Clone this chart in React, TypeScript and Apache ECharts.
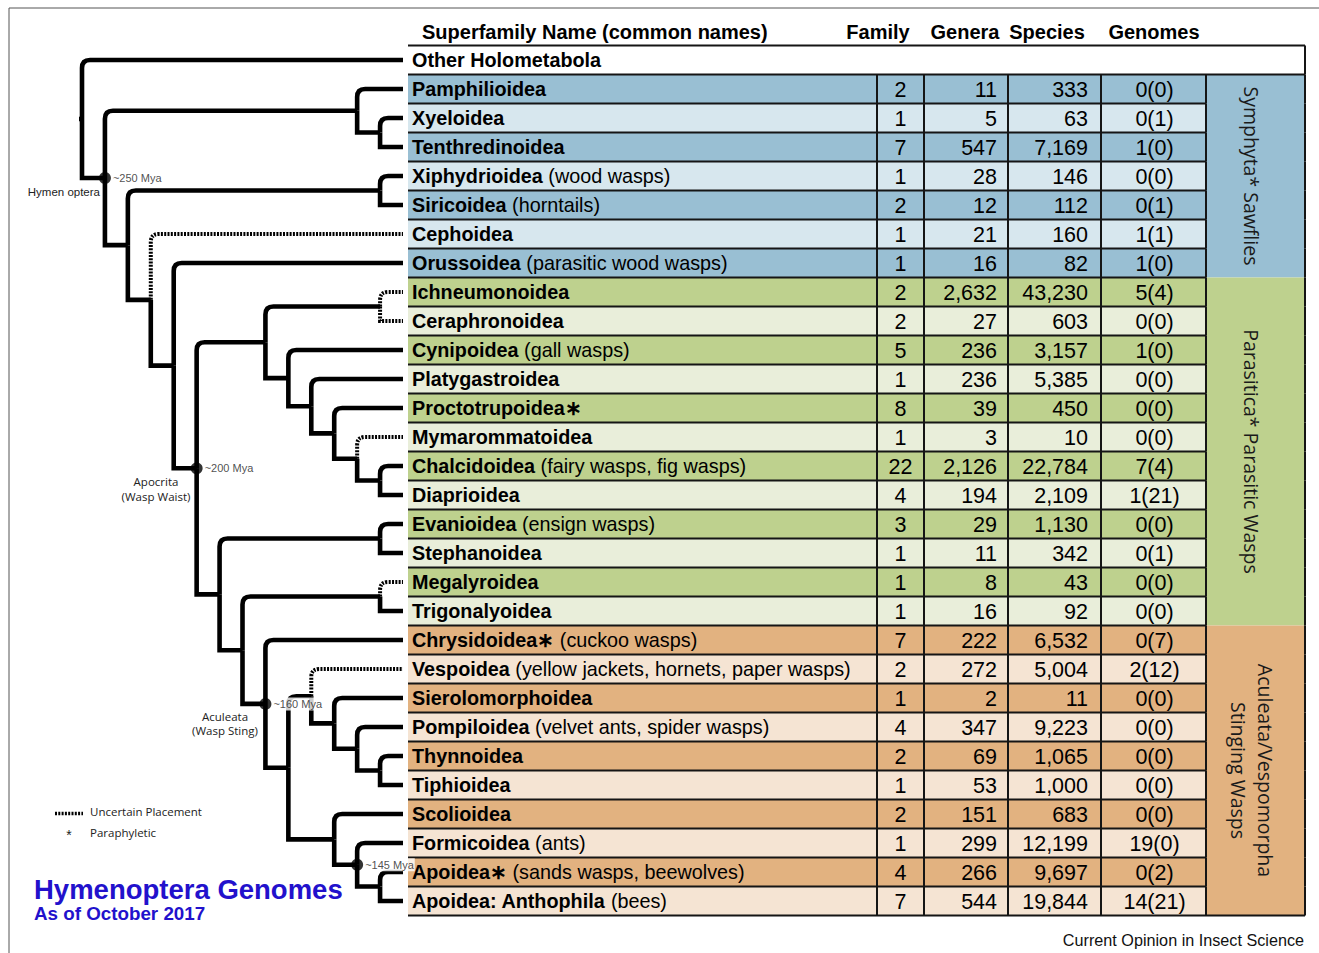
import React, { useEffect, useRef } from "react";
import * as echarts from "echarts";

// ---------- DATA ----------
const superfamilies = ["Other Holometabola", "Pamphilioidea", "Xyeloidea", "Tenthredinoidea", "Xiphydrioidea", "Siricoidea", "Cephoidea", "Orussoidea", "Ichneumonoidea", "Ceraphronoidea", "Cynipoidea", "Platygastroidea", "Proctotrupoidea∗", "Mymarommatoidea", "Chalcidoidea", "Diaprioidea", "Evanioidea", "Stephanoidea", "Megalyroidea", "Trigonalyoidea", "Chrysidoidea∗", "Vespoidea", "Sierolomorphoidea", "Pompiloidea", "Thynnoidea", "Tiphioidea", "Scolioidea", "Formicoidea", "Apoidea∗", "Apoidea: Anthophila"];
const commonNames = ["", "", "", "", "(wood wasps)", "(horntails)", "", "(parasitic wood wasps)", "", "", "(gall wasps)", "", "", "", "(fairy wasps, fig wasps)", "", "(ensign wasps)", "", "", "", "(cuckoo wasps)", "(yellow jackets, hornets, paper wasps)", "", "(velvet ants, spider wasps)", "", "", "", "(ants)", "(sands wasps, beewolves)", "(bees)"];
const families = [null, 2, 1, 7, 1, 2, 1, 1, 2, 2, 5, 1, 8, 1, 22, 4, 3, 1, 1, 1, 7, 2, 1, 4, 2, 1, 2, 1, 4, 7];
const genera = [null, 11, 5, 547, 28, 12, 21, 16, 2632, 27, 236, 236, 39, 3, 2126, 194, 29, 11, 8, 16, 222, 272, 2, 347, 69, 53, 151, 299, 266, 544];
const species = [null, 333, 63, 7169, 146, 112, 160, 82, 43230, 603, 3157, 5385, 450, 10, 22784, 2109, 1130, 342, 43, 92, 6532, 5004, 11, 9223, 1065, 1000, 683, 12199, 9697, 19844];
const genomes = ["", "0(0)", "0(1)", "1(0)", "0(0)", "0(1)", "1(1)", "1(0)", "5(4)", "0(0)", "1(0)", "0(0)", "0(0)", "0(0)", "7(4)", "1(21)", "0(0)", "0(1)", "0(0)", "0(0)", "0(7)", "2(12)", "0(0)", "0(0)", "0(0)", "0(0)", "0(0)", "19(0)", "0(2)", "14(21)"];
const columnHeaders = ["Superfamily Name (common names)", "Family", "Genera", "Species", "Genomes"];

const groupNames = ["Symphyta* Sawflies", "Parasitica* Parasitic Wasps", "Aculeata/Vespomorpha\nStinging Wasps"];
const groupStartRows = [1, 8, 20];
const groupEndRows = [7, 19, 29];

// Tree: leaves are row indices; internal nodes have a depth level x
type TNode = number | { x: number; c: [TNode, TNode]; dash?: [boolean, boolean]; age?: string };
const aculeata: TNode = {
  x: 8, age: "~160 Mya", c: [20, {
    x: 9, c: [
      { x: 10, dash: [true, false], c: [21, { x: 11, c: [22, { x: 12, c: [23, { x: 13, c: [24, 25] }] }] }] },
      { x: 11, c: [26, { x: 12, age: "~145 Mya", c: [27, { x: 13, c: [28, 29] }] }] },
    ],
  }],
};
const parasitica1: TNode = {
  x: 8, c: [
    { x: 13, dash: [true, true], c: [8, 9] },
    { x: 9, c: [10, { x: 10, c: [11, { x: 11, c: [12, { x: 12, dash: [true, false], c: [13, { x: 13, c: [14, 15] }] }] }] }] },
  ],
};
const parasitica2: TNode = {
  x: 6, c: [
    { x: 13, c: [16, 17] },
    { x: 7, c: [{ x: 13, dash: [true, false], c: [18, 19] }, aculeata] },
  ],
};
const tree: TNode = {
  x: 0, c: [0, {
    x: 1, age: "~250 Mya", c: [
      { x: 12, c: [1, { x: 13, c: [2, 3] }] },
      { x: 2, c: [
        { x: 13, c: [4, 5] },
        { x: 3, dash: [true, false], c: [6, { x: 4, c: [7, { x: 5, age: "~200 Mya", c: [parasitica1, parasitica2] }] }] },
      ] },
    ],
  }],
};
const leafLevel = 14;

// ---------- LAYOUT / STYLE ----------
const colEdges = [0, 469, 516, 600, 693, 798, 897];
const darkColors = ["#99bfd3", "#bed18e", "#e2b280"];
const lightColors = ["#d7e7ee", "#e9eeda", "#f5e4d3"];
const lineColor = "#151515";
const SANS = '"Liberation Sans", Arial, sans-serif';
const MYRIAD = '"Open Sans", "Noto Sans", sans-serif';

const branches: number[][] = [];
const dots: { value: number[]; name: string }[] = [];
function layout(n: TNode): [number, number] {
  if (typeof n === "number") return [leafLevel, n];
  const a = layout(n.c[0]);
  const b = layout(n.c[1]);
  const y = (a[1] + b[1]) / 2;
  branches.push([n.x, y, a[0], a[1], 1, n.dash && n.dash[0] ? 1 : 0]);
  branches.push([n.x, y, b[0], b[1], 0, n.dash && n.dash[1] ? 1 : 0]);
  if (n.age) dots.push({ value: [n.x, y], name: n.age });
  return [n.x, y];
}
const rootPos = layout(tree);
branches.push([rootPos[0] - 0.13, rootPos[1], rootPos[0], rootPos[1], 2, 0]);

const fmt = (v: number | null) => (v == null ? "" : v.toLocaleString("en-US"));
const groupOf = (i: number) => groupStartRows.findIndex((s, g) => i >= s && i <= groupEndRows[g]);

function buildOption(): any {
  const rowCount = superfamilies.length;
  const yAxisBase = { type: "value", min: -0.5, max: rowCount - 0.5, inverse: true, show: false };
  const textEl = (x: number, y: number, text: string, font: string, align = "left", fill = "#111") => ({
    type: "text", x, y, silent: true,
    style: { text, font, fill, align, verticalAlign: "middle" },
  });
  const headerX = [422, 878, 965, 1047, 1154];
  const graphic: any[] = [
    { type: "line", shape: { x1: 9, y1: 8, x2: 1319, y2: 8 }, style: { stroke: "#555", lineWidth: 1 } },
    { type: "line", shape: { x1: 9, y1: 8, x2: 9, y2: 953 }, style: { stroke: "#555", lineWidth: 1 } },
    ...columnHeaders.map((h, k) => textEl(headerX[k], 32, h, `bold 20px ${SANS}`, k === 0 ? "left" : "center", "#000")),
    textEl(100, 192, "Hymen optera", `11.5px ${SANS}`, "right", "#222"),
    textEl(156, 481, "Apocrita", `11.5px ${MYRIAD}`, "center", "#222"),
    textEl(156, 496, "(Wasp Waist)", `11.5px ${MYRIAD}`, "center", "#222"),
    textEl(225, 716, "Aculeata", `11.5px ${MYRIAD}`, "center", "#222"),
    textEl(225, 730, "(Wasp Sting)", `11.5px ${MYRIAD}`, "center", "#222"),
    { type: "line", shape: { x1: 55, y1: 813.5, x2: 83, y2: 813.5 }, style: { stroke: "#000", lineWidth: 3.5, lineDash: [2, 1.3] } },
    textEl(90, 811, "Uncertain Placement", `11.5px ${MYRIAD}`, "left", "#222"),
    textEl(69, 835, "*", `14px ${SANS}`, "center", "#222"),
    textEl(90, 832, "Paraphyletic", `11.5px ${MYRIAD}`, "left", "#222"),
    textEl(34, 889, "Hymenoptera Genomes", `bold 27.5px ${SANS}`, "left", "#2211cc"),
    textEl(34, 913, "As of October 2017", `bold 18.8px ${SANS}`, "left", "#2211cc"),
    textEl(1304, 940, "Current Opinion in Insect Science", `16.2px ${SANS}`, "right", "#111"),
  ];

  return {
    animation: false,
    backgroundColor: "#ffffff",
    grid: [
      { left: 82, top: 45.5, width: 321, height: 870 },
      { left: 408, top: 45.5, width: 897, height: 870 },
    ],
    xAxis: [
      { type: "value", gridIndex: 0, min: 0, max: leafLevel, show: false },
      { type: "value", gridIndex: 1, min: 0, max: colEdges[colEdges.length - 1], show: false },
    ],
    yAxis: [
      { ...yAxisBase, gridIndex: 0 },
      { ...yAxisBase, gridIndex: 1 },
    ],
    graphic,
    series: [
      // tree branches
      {
        type: "custom", xAxisIndex: 0, yAxisIndex: 0, silent: true, clip: false,
        data: branches,
        renderItem: (_p: any, api: any) => {
          const n = api.coord([api.value(0), api.value(1)]);
          const c = api.coord([api.value(2), api.value(3)]);
          const kind = api.value(4);
          const dashed = api.value(5) === 1;
          let d: string;
          if (kind === 2) {
            d = `M${n[0]},${n[1]} L${c[0]},${c[1]}`;
          } else if (kind === 1) {
            const r = Math.min(8, Math.abs(n[1] - c[1]), Math.abs(c[0] - n[0]));
            d = `M${n[0]},${n[1]} L${n[0]},${c[1] + r} Q${n[0]},${c[1]} ${n[0] + r},${c[1]} L${c[0]},${c[1]}`;
          } else {
            d = `M${n[0]},${n[1]} L${n[0]},${c[1]} L${c[0]},${c[1]}`;
          }
          return {
            type: "path",
            shape: { pathData: d },
            style: { fill: "none", stroke: "#000", lineWidth: dashed ? 4 : 4.6, lineDash: dashed ? [2, 1.3] : null, lineJoin: "miter", lineCap: "butt" },
          };
        },
      },
      // age nodes
      {
        type: "scatter", xAxisIndex: 0, yAxisIndex: 0, silent: true,
        symbol: "circle", symbolSize: 12, itemStyle: { color: "#000" },
        data: dots,
        z: 3,
        label: {
          show: true, position: "right", distance: 1, formatter: "{b}",
          fontSize: 11, fontFamily: SANS, color: "#222",
          backgroundColor: "#fff", padding: [1, 1],
        },
      },
      // group column
      {
        type: "custom", xAxisIndex: 1, yAxisIndex: 1, silent: true, clip: false,
        data: groupNames.map((_, g) => [colEdges[5], groupStartRows[g], groupEndRows[g], g]),
        renderItem: (_p: any, api: any) => {
          const s = api.value(1), e = api.value(2), g = api.value(3);
          const p0 = api.coord([colEdges[5], s - 0.5]);
          const p1 = api.coord([colEdges[6], e + 0.5]);
          return {
            type: "group",
            children: [
              { type: "rect", shape: { x: p0[0], y: p0[1], width: p1[0] - p0[0], height: p1[1] - p0[1] }, style: { fill: darkColors[g] } },
              {
                type: "text", x: (p0[0] + p1[0]) / 2 - 4, y: (p0[1] + p1[1]) / 2, rotation: -Math.PI / 2,
                style: { text: groupNames[g], font: `19.5px ${MYRIAD}`, fill: "#1a1a1a", align: "center", verticalAlign: "middle", lineHeight: 27 },
              },
            ],
          };
        },
      },
      // table rows
      {
        type: "custom", xAxisIndex: 1, yAxisIndex: 1, silent: true, clip: false,
        data: superfamilies.map((_, i) => [0, i]),
        renderItem: (_p: any, api: any) => {
          const i = api.value(1);
          const X = (v: number) => api.coord([v, i])[0];
          const yT = api.coord([0, i - 0.5])[1];
          const yB = api.coord([0, i + 0.5])[1];
          const yc = api.coord([0, i])[1];
          const g = groupOf(i);
          const fill = i === 0 ? "#ffffff" : (i - groupStartRows[g]) % 2 === 0 ? darkColors[g] : lightColors[g];
          const right = i === 0 ? colEdges[6] : colEdges[5];
          const nameText = commonNames[i] ? `{b|${superfamilies[i]}}{n| ${commonNames[i]}}` : `{b|${superfamilies[i]}}`;
          const children: any[] = [
            { type: "rect", shape: { x: X(0), y: yT, width: X(right) - X(0), height: yB - yT }, style: { fill } },
            {
              type: "text", x: X(4), y: yc,
              style: {
                text: nameText, align: "left", verticalAlign: "middle", fill: "#000",
                rich: {
                  b: { fontWeight: "bold", fontSize: 19.8, fontFamily: SANS, fill: "#000" },
                  n: { fontSize: 19.8, fontFamily: SANS, fill: "#000" },
                },
              },
            },
          ];
          if (i > 0) {
            const numFont = `21.5px ${SANS}`;
            const cells: [number, string, string][] = [
              [(colEdges[1] + colEdges[2]) / 2, fmt(families[i]), "center"],
              [colEdges[3] - 11, fmt(genera[i]), "right"],
              [colEdges[4] - 13, fmt(species[i]), "right"],
              [(colEdges[4] + colEdges[5]) / 2 + 1, genomes[i], "center"],
            ];
            cells.forEach(([x, t, a]) => {
              children.push({ type: "text", x: X(x), y: yc + 0.5, style: { text: t, font: numFont, fill: "#000", align: a, verticalAlign: "middle" } });
            });
          }
          return { type: "group", children };
        },
      },
      // table lines
      {
        type: "custom", xAxisIndex: 1, yAxisIndex: 1, silent: true, clip: false,
        data: superfamilies.map((_, i) => [0, i]),
        renderItem: (_p: any, api: any) => {
          const i = api.value(1);
          const X = (v: number) => api.coord([v, i])[0];
          const yT = api.coord([0, i - 0.5])[1];
          const yB = api.coord([0, i + 0.5])[1];
          const st = { stroke: lineColor, lineWidth: 2 };
          const last = i === superfamilies.length - 1;
          const ch: any[] = [];
          ch.push({ type: "line", shape: { x1: X(0), y1: yB, x2: X(i === 0 || last ? colEdges[6] : colEdges[5]), y2: yB }, style: st });
          if (i === 0) ch.push({ type: "line", shape: { x1: X(0), y1: yT, x2: X(colEdges[6]), y2: yT }, style: st });
          ch.push({ type: "line", shape: { x1: X(colEdges[6]), y1: yT, x2: X(colEdges[6]), y2: yB }, style: st });
          if (i > 0) {
            for (let k = 1; k <= 5; k++) {
              ch.push({ type: "line", shape: { x1: X(colEdges[k]), y1: yT, x2: X(colEdges[k]), y2: yB }, style: st });
            }
          }
          return { type: "group", children: ch };
        },
      },
    ],
  };
}

export default function App() {
  const ref = useRef<HTMLDivElement>(null);
  useEffect(() => {
    document.body.style.margin = "0";
    if (!ref.current) return;
    const chart = echarts.init(ref.current, null, { renderer: "svg" });
    chart.setOption(buildOption());
    return () => chart.dispose();
  }, []);
  return <div ref={ref} style={{ width: 1319, height: 953, background: "#fff" }} />;
}
